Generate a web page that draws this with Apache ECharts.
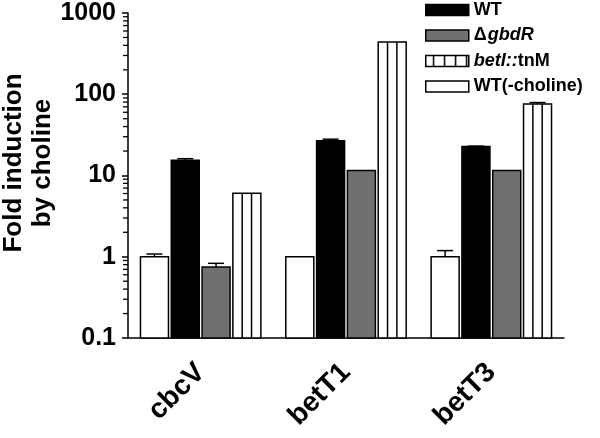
<!DOCTYPE html>
<html>
<head>
<meta charset="utf-8">
<script src="https://cdn.jsdelivr.net/npm/echarts@6/dist/echarts.min.js"></script>
<style>html,body{margin:0;padding:0;background:#fff}#c{width:600px;height:438px}</style>
</head>
<body>
<div id="c"></div>
<script>
var categories = ['cbcV', 'betT1', 'betT3'];
var seriesNames = ['WT(-choline)', 'WT', 'ΔgbdR', 'betI::tnM'];
var legendOrder = ['WT', 'ΔgbdR', 'betI::tnM', 'WT(-choline)'];
var wtNoCholine = [1, 1, 1];
var wtNoCholineErr = [1.08, 1.0, 1.19];
var wt = [15.4, 26.7, 22.7];
var wtErr = [16.1, 28, 23.0];
var gbdR = [0.75, 11.5, 11.5];
var gbdRErr = [0.83, 11.6, 11.6];
var betI = [6.05, 440, 76];
var betIErr = [6.05, 440, 79];
var yTickLabels = ['0.1', '1', '10', '100', '1000'];
var minorTickValues = [];
[0.1, 1, 10, 100].forEach(function (d) {
  for (var k = 2; k <= 9; k++) minorTickValues.push(+(d * k).toPrecision(3));
});

var FONT = '"Liberation Sans", Arial, sans-serif';
var BAR_W = 28, BAR_STEP = 30.8;

// legend stripe pattern
var pc = document.createElement('canvas');
pc.width = 11; pc.height = 4;
var pctx = pc.getContext('2d');
pctx.fillStyle = '#fff'; pctx.fillRect(0, 0, 11, 4);
pctx.fillStyle = '#000'; pctx.fillRect(7, 0, 1.5, 4);
var stripe = { image: pc, repeat: 'repeat' };

var chart = echarts.init(document.getElementById('c'));
var values = [wtNoCholine, wt, gbdR, betI];
var errs = [wtNoCholineErr, wtErr, gbdRErr, betIErr];
var fills = ['#ffffff', '#000000', '#707070', '#ffffff'];
var legendFills = ['#ffffff', '#000000', '#707070', stripe];

var series = seriesNames.map(function (n, si) {
  return {
    name: n, type: 'custom', z: 2,
    data: categories.map(function (c, ci) { return [ci, values[si][ci], errs[si][ci]]; }),
    encode: { x: 0, y: 1 },
    itemStyle: { color: legendFills[si], borderColor: '#000', borderWidth: 1.5 },
    renderItem: function (params, api) {
      var ci = api.value(0), v = api.value(1), e = api.value(2);
      var top = api.coord([ci, v]);
      var base = params.coordSys.y + params.coordSys.height;
      var off = (si - 1.5) * BAR_STEP;
      var cx = top[0] + off;
      var x0 = cx - BAR_W / 2;
      var children = [{
        type: 'rect', shape: { x: x0, y: top[1], width: BAR_W, height: base - top[1] },
        style: { fill: fills[si], stroke: '#000', lineWidth: 1.5 }
      }];
      if (si === 3) {
        for (var k = 1; k < 3; k++) {
          var lx = x0 + BAR_W * k / 3;
          children.push({ type: 'line', shape: { x1: lx, y1: top[1], x2: lx, y2: base }, style: { stroke: '#000', lineWidth: 1.5 } });
        }
      }
      if (e > v * 1.01) {
        var pe = api.coord([ci, e]);
        children.push({ type: 'line', shape: { x1: cx, y1: top[1], x2: cx, y2: pe[1] }, style: { stroke: '#000', lineWidth: 1.5 } });
        children.push({ type: 'line', shape: { x1: cx - 8, y1: pe[1], x2: cx + 8, y2: pe[1] }, style: { stroke: '#000', lineWidth: 1.5 } });
      }
      return { type: 'group', children: children };
    }
  };
});

// minor ticks on log axis
series.push({
  type: 'custom', name: 'minor', data: minorTickValues.map(function (v) { return [0, v]; }),
  encode: { x: 0, y: 1 }, z: 4, silent: true, clip: false,
  renderItem: function (params, api) {
    var p = api.coord([0, api.value(1)]);
    var x0 = params.coordSys.x;
    return { type: 'line', shape: { x1: x0 - 5, y1: p[1], x2: x0, y2: p[1] }, style: { stroke: '#000', lineWidth: 1.3 } };
  }
});

chart.setOption({
  animation: false,
  backgroundColor: '#fff',
  grid: { left: 128, right: 36, top: 13, bottom: 100 },
  legend: {
    data: legendOrder.map(function (n) {
      var si = seriesNames.indexOf(n);
      return { name: n, icon: 'rect', itemStyle: { color: legendFills[si], borderColor: '#000', borderWidth: 1.5 } };
    }),
    orient: 'vertical', left: 425, top: 0, padding: 0,
    itemWidth: 43, itemHeight: 11, itemGap: 5.5,
    selectedMode: false,
    formatter: function (name) {
      if (name === 'ΔgbdR') return '{n|Δ}{i|gbdR}';
      if (name === 'betI::tnM') return '{i|betI::}{b|tnM}';
      return '{b|' + name + '}';
    },
    textStyle: {
      fontFamily: FONT, fontSize: 18, fontWeight: 'bold', color: '#000', lineHeight: 20,
      rich: {
        b: { fontFamily: FONT, fontSize: 18, fontWeight: 'bold', color: '#000' },
        i: { fontFamily: FONT, fontSize: 18, fontWeight: 'bold', fontStyle: 'italic', color: '#000' },
        n: { fontFamily: FONT, fontSize: 18, color: '#000', padding: [0, 1, 0, 0] }
      }
    }
  },
  xAxis: {
    type: 'category', data: categories,
    axisLine: { lineStyle: { color: '#000', width: 1.5 } },
    axisTick: { alignWithLabel: true, length: 11, lineStyle: { color: '#000', width: 1.5 } },
    axisLabel: { rotate: 45, margin: 30, padding: [36, 0, 0, 0], fontFamily: FONT, fontSize: 28, fontWeight: 'bold', color: '#000' }
  },
  yAxis: {
    type: 'log', logBase: 10, min: 0.1, max: 1000,
    splitLine: { show: false },
    axisLine: { show: true, lineStyle: { color: '#000', width: 1.5 } },
    axisTick: { show: true, length: 6, lineStyle: { color: '#000', width: 1.5 } },
    axisLabel: {
      margin: 12, fontFamily: FONT, fontSize: 25, fontWeight: 'bold', color: '#000',
      formatter: function (v) {
        var idx = Math.round(Math.log10(v)) + 1;
        return yTickLabels[idx];
      }
    }
  },
  graphic: [{
    type: 'text', x: 28, y: 163, rotation: Math.PI / 2,
    style: {
      text: 'Fold induction\nby choline', fontFamily: FONT, fontSize: 26, fontWeight: 'bold',
      fill: '#000', align: 'center', verticalAlign: 'middle', lineHeight: 29
    }
  }],
  series: series
});
</script>
</body>
</html>
